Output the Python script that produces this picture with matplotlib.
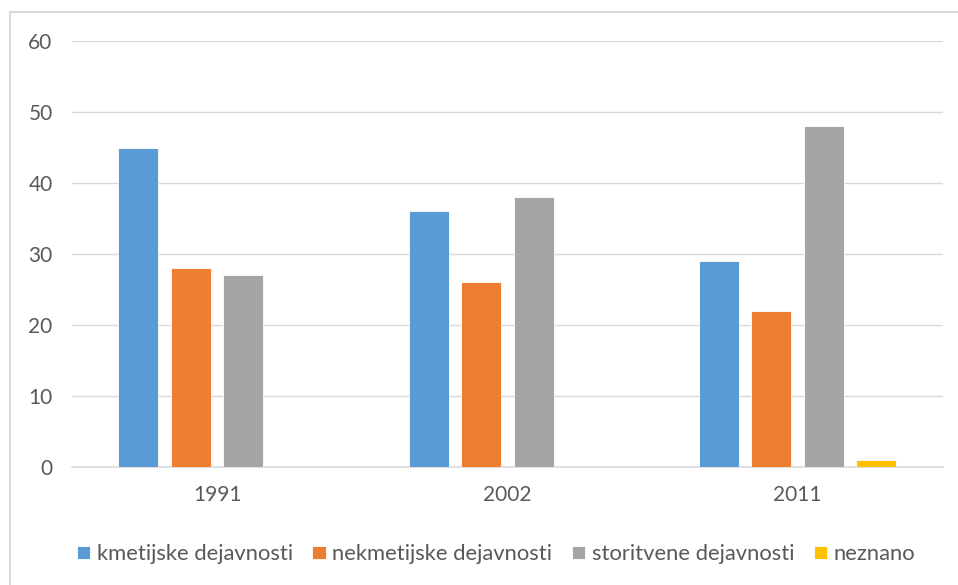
import matplotlib.pyplot as plt
import numpy as np
from matplotlib.patches import Rectangle

years = ["1991", "2002", "2011"]
series = ["kmetijske dejavnosti", "nekmetijske dejavnosti", "storitvene dejavnosti", "neznano"]
kmetijske = [45, 36, 29]
nekmetijske = [28, 26, 22]
storitvene = [27, 38, 48]
neznano = [0, 0, 1]
colors = ["#5B9BD5", "#ED7D31", "#A5A5A5", "#FFC000"]

plt.rcParams['font.family'] = ['Lato', 'DejaVu Sans']

fig = plt.figure(figsize=(9.58, 5.85), dpi=100)
ax = fig.add_axes([0.0752, 0.2017, 0.9088, 0.7282])

# light frame of the chart, cut off at the right and bottom edges
fig.patches.append(Rectangle((10 / 958, -0.1), 1.1, 0.1 + 1 - 12 / 585, transform=fig.transFigure,
                             fill=False, edgecolor="#D9D9D9", linewidth=1.5))

x = np.arange(len(years))
step = 0.181
width = 0.138
values = [kmetijske, nekmetijske, storitvene, neznano]
for i, (vals, name, c) in enumerate(zip(values, series, colors)):
    ax.bar(x + (i - 1.5) * step, vals, width, color=c, label=name,
           edgecolor="white", linewidth=0.6, zorder=3)

ax.set_xlim(-0.5, 2.5)
ax.set_ylim(0, 60)
ax.set_yticks(range(0, 61, 10))
ax.set_xticks(x)
ax.set_xticklabels(years)
ax.grid(axis="y", color="#D9D9D9", linewidth=1, zorder=0)
for s in ["top", "right", "left"]:
    ax.spines[s].set_visible(False)
ax.spines["bottom"].set_color("#D9D9D9")
ax.spines["bottom"].set_linewidth(1.2)
ax.tick_params(length=0, labelsize=15, labelcolor="#595959")
ax.tick_params(axis="y", pad=14)
ax.tick_params(axis="x", pad=13)

ax.legend(loc="upper center", bbox_to_anchor=(0.487, -0.135), ncol=4, frameon=False,
          fontsize=15.8, labelcolor="#595959", handlelength=0.6, handleheight=0.6,
          handletextpad=0.3, columnspacing=0.9)

plt.savefig("out.png", dpi=100)
